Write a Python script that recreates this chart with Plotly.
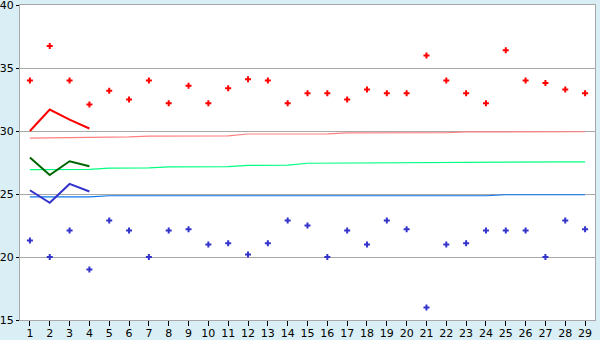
import plotly.graph_objects as go

categories = list(range(1, 30))

upper_points = [34.0, 36.75, 34.0, 32.1, 33.2, 32.5, 34.0, 32.2, 33.6, 32.2,
                33.4, 34.1, 34.0, 32.2, 33.0, 33.0, 32.5, 33.3, 33.0, 33.0,
                36.0, 34.0, 33.0, 32.2, 36.4, 34.0, 33.8, 33.3, 33.0]

lower_points = [21.3, 20.0, 22.1, 19.0, 22.9, 22.1, 20.0, 22.1, 22.2, 21.0,
                21.1, 20.2, 21.1, 22.9, 22.5, 20.0, 22.1, 21.0, 22.9, 22.2,
                16.0, 21.0, 21.1, 22.1, 22.1, 22.1, 20.0, 22.9, 22.2]

red_line = [30.0, 31.7, 30.9, 30.2]
green_line = [27.9, 26.5, 27.6, 27.2]
blue_line = [25.3, 24.3, 25.8, 25.2]

pink_level = [29.44, 29.45, 29.52, 29.52, 29.53, 29.53, 29.60, 29.60, 29.61, 29.61,
              29.61, 29.76, 29.76, 29.77, 29.77, 29.77, 29.85, 29.85, 29.85, 29.86,
              29.86, 29.86, 29.93, 29.93, 29.93, 29.94, 29.94, 29.94, 29.94]

green_level = [26.93, 26.94, 26.94, 26.95, 27.06, 27.06, 27.07, 27.15, 27.16, 27.16,
               27.17, 27.27, 27.28, 27.29, 27.44, 27.45, 27.45, 27.46, 27.46, 27.47,
               27.53, 27.53, 27.54, 27.54, 27.54, 27.55, 27.55, 27.55, 27.55]

blue_level = [24.77, 24.77, 24.77, 24.77, 24.86, 24.86, 24.86, 24.86, 24.86, 24.86,
              24.86, 24.86, 24.86, 24.86, 24.86, 24.86, 24.86, 24.86, 24.86, 24.86,
              24.86, 24.86, 24.86, 24.86, 24.94, 24.94, 24.94, 24.94, 24.94]

fig = go.Figure()

fig.add_trace(go.Scatter(x=categories, y=pink_level, mode="lines",
                         line=dict(color="#ff8080", width=1.2)))
fig.add_trace(go.Scatter(x=categories, y=green_level, mode="lines",
                         line=dict(color="#00ff80", width=1.2)))
fig.add_trace(go.Scatter(x=categories, y=blue_level, mode="lines",
                         line=dict(color="#0a78f0", width=1.2)))

n = len(red_line)
fig.add_trace(go.Scatter(x=categories[:n], y=red_line, mode="lines",
                         line=dict(color="#ff0000", width=2)))
fig.add_trace(go.Scatter(x=categories[:n], y=green_line, mode="lines",
                         line=dict(color="#006400", width=2)))
fig.add_trace(go.Scatter(x=categories[:n], y=blue_line, mode="lines",
                         line=dict(color="#3333cc", width=2)))

fig.add_trace(go.Scatter(x=categories, y=upper_points, mode="markers",
                         marker=dict(symbol="cross", size=5, color="#ff0000",
                                     line=dict(width=0))))
fig.add_trace(go.Scatter(x=categories, y=lower_points, mode="markers",
                         marker=dict(symbol="cross", size=5, color="#3333cc",
                                     line=dict(width=0))))

font = dict(family="DejaVu Sans, Verdana, sans-serif", size=11, color="#000000")

fig.update_layout(
    width=600, height=340,
    margin=dict(l=20, r=5, t=5, b=20, pad=0),
    paper_bgcolor="#d9eff5",
    plot_bgcolor="#ffffff",
    showlegend=False,
    font=font,
)

fig.update_xaxes(
    range=[0.5, 29.5], tickmode="array", tickvals=categories,
    ticktext=[str(c) for c in categories],
    ticks="outside", ticklen=5, tickcolor="#000000", tickwidth=1,
    showgrid=False, zeroline=False, automargin=False,
    showline=True, linecolor="#a8a8a8", linewidth=1, mirror=True,
    tickfont=font, ticklabelstandoff=-2, ticklabeloverflow="allow",
)
fig.update_yaxes(
    range=[15, 40], tickmode="array", tickvals=[15, 20, 25, 30, 35, 40],
    ticks="outside", ticklen=3, tickcolor="#000000", tickwidth=1,
    showgrid=True, gridcolor="#a8a8a8", gridwidth=1, zeroline=False,
    automargin=False,
    showline=True, linecolor="#a8a8a8", linewidth=1, mirror=True,
    tickfont=font, ticklabelstandoff=0, ticklabeloverflow="allow",
)

fig.write_html("out.html", config={"displayModeBar": False})
